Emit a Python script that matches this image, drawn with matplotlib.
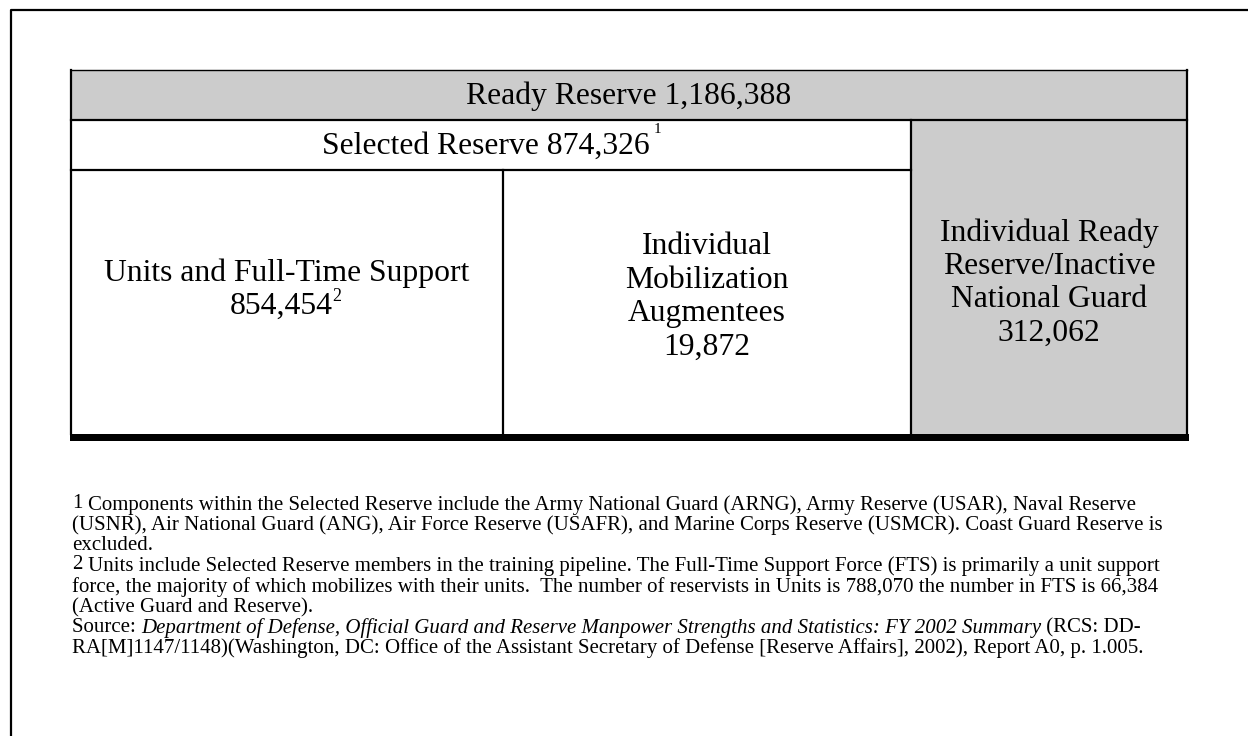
import matplotlib
matplotlib.use("Agg")
import matplotlib.pyplot as plt
from matplotlib.patches import Rectangle

plt.rcParams['font.family'] = ['Liberation Serif', 'DejaVu Serif']

# strengths, FY 2002
ready_reserve = 1186388
selected_reserve = 874326
units_fts = 854454
ima = 19872
irr_ing = 312062
units_only = 788070
fts_only = 66384

cell_titles = ["Units and Full-Time Support", "Individual\nMobilization\nAugmentees",
               "Individual Ready\nReserve/Inactive\nNational Guard"]
cell_values = [units_fts, ima, irr_ing]

note1_lines = [
    "Components within the Selected Reserve include the Army National Guard (ARNG), Army Reserve (USAR), Naval Reserve",
    "(USNR), Air National Guard (ANG), Air Force Reserve (USAFR), and Marine Corps Reserve (USMCR). Coast Guard Reserve is",
    "excluded.",
]
note2_lines = [
    "Units include Selected Reserve members in the training pipeline. The Full-Time Support Force (FTS) is primarily a unit support",
    "force, the majority of which mobilizes with their units.  The number of reservists in Units is %s the number in FTS is %s"
    % (format(units_only, ","), format(fts_only, ",")),
    "(Active Guard and Reserve).",
]
source_title = ("Department of Defense, Official Guard and Reserve Manpower Strengths and Statistics: "
                "FY 2002 Summary")
source_tail = " (RCS: DD-"
source_line2 = ("RA[M]1147/1148)(Washington, DC: Office of the Assistant Secretary of Defense "
                "[Reserve Affairs], 2002), Report A0, p. 1.005.")

fig = plt.figure(figsize=(12.48, 7.36), dpi=100)
ax = fig.add_axes([0, 0, 1, 1])
ax.set_xlim(0, 1248)
ax.set_ylim(736, 0)
ax.axis('off')

gray = '#cccccc'
fs_box = 22.8
fs_note = 15

# outer frame (left and top only visible)
ax.plot([11, 11, 1248], [736, 10, 10], color='black', lw=1.6, solid_capstyle='butt')

# table layout
x0, x1, x2, x3 = 71, 503, 911, 1187
y0, y1, y2, y3 = 70, 120, 170, 434

ax.add_patch(Rectangle((x0, y0), x3 - x0, y1 - y0, facecolor=gray, edgecolor='none'))
ax.add_patch(Rectangle((x2, y1), x3 - x2, y3 - y1, facecolor=gray, edgecolor='none'))

lw = 1.6
ax.plot([x0, x3], [y0, y0], color='black', lw=1.0)
ax.plot([x0, x0], [y0, y3], color='black', lw=lw)
ax.plot([x3, x3], [y0, y3], color='black', lw=lw)
ax.plot([x0, x3], [y1, y1], color='black', lw=lw)
ax.plot([x0, x2], [y2, y2], color='black', lw=lw)
ax.plot([x1, x1], [y2, y3], color='black', lw=lw)
ax.plot([x2, x2], [y1, y3], color='black', lw=lw)
# heavy bottom rule
ax.add_patch(Rectangle((x0 - 1, y3), x3 - x0 + 3, 7, facecolor='black', edgecolor='none'))

ax.text((x0 + x3) / 2, (y0 + y1) / 2 + 1, "Ready Reserve " + format(ready_reserve, ","),
        ha='center', va='center', fontsize=fs_box)

t_sel = ax.text((x0 + x2) / 2 - 5, (y1 + y2) / 2 + 1, "Selected Reserve " + format(selected_reserve, ","),
                ha='center', va='center', fontsize=fs_box)
ax.annotate("1", xy=(1, 1), xycoords=t_sel, xytext=(3, -3), textcoords='offset points',
            ha='left', va='bottom', fontsize=11)

centers = [(x0 + x1) / 2, (x1 + x2) / 2, (x2 + x3) / 2]
mid_y = [289, 297, 283]
for cx, cy, title, val in zip(centers, mid_y, cell_titles, cell_values):
    if title.startswith("Units"):
        ax.text(cx, cy - 16, title, ha='center', va='center', fontsize=fs_box)
        tv = ax.text(cx - 6, cy + 17, format(val, ","), ha='center', va='center', fontsize=fs_box)
        ax.annotate("2", xy=(1, 1), xycoords=tv, xytext=(0, -10), textcoords='offset points',
                    ha='left', va='bottom', fontsize=13)
    else:
        ax.text(cx, cy, title + "\n" + format(val, ","), ha='center', va='center',
                fontsize=fs_box, linespacing=1.2)

# footnotes
note_x = 72
line_h = 20.5
y = 505
ax.text(note_x, y - 2, "1", ha='left', va='center', fontsize=fs_note)
for i, line in enumerate(note1_lines):
    ax.text(note_x + (16 if i == 0 else 0), y, line, ha='left', va='center', fontsize=fs_note)
    y += line_h
ax.text(note_x, y - 2, "2", ha='left', va='center', fontsize=fs_note)
for i, line in enumerate(note2_lines):
    ax.text(note_x + (16 if i == 0 else 0), y, line, ha='left', va='center', fontsize=fs_note)
    y += line_h
ts = ax.text(note_x, y, "Source: ", ha='left', va='center', fontsize=fs_note)
ti = ax.annotate(source_title, xy=(1, 0), xycoords=ts, ha='left', va='bottom',
                 fontsize=fs_note, style='italic')
ax.annotate(source_tail, xy=(1, 0), xycoords=ti, ha='left', va='bottom', fontsize=fs_note)
y += line_h
ax.text(note_x, y, source_line2, ha='left', va='center', fontsize=fs_note)

fig.savefig("out.png", dpi=100)
